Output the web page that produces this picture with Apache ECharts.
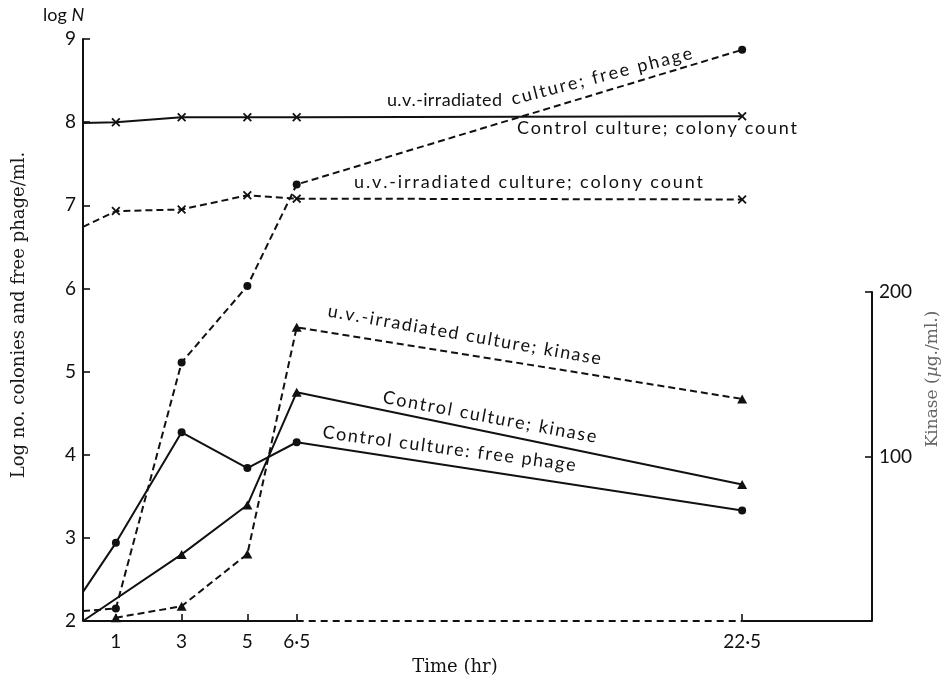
<!DOCTYPE html>
<html>
<head>
<meta charset="utf-8">
<script src="https://cdn.jsdelivr.net/npm/echarts@6/dist/echarts.min.js"></script>
<style>
  html, body { margin: 0; padding: 0; background: #ffffff; }
  #chart { width: 945px; height: 681px; }
</style>
</head>
<body>
<div id="chart"></div>
<script>
// ---- Measurements (time in hr) ----
// log number of colonies / free phage per ml
const controlColonyTimes = [0, 1, 3, 5, 6.5, 22.5];
const controlColony      = [7.99, 8.0, 8.06, 8.06, 8.06, 8.07];
const uvColonyTimes      = [0, 1, 3, 5, 6.5, 22.5];
const uvColony           = [6.74, 6.93, 6.95, 7.12, 7.08, 7.07];
const uvPhageTimes       = [0, 1, 3, 5, 6.5, 22.5];
const uvPhage            = [2.12, 2.15, 5.11, 6.03, 7.25, 8.87];
const controlPhageTimes  = [0, 1, 3, 5, 6.5, 22.5];
const controlPhage       = [2.35, 2.94, 4.27, 3.84, 4.15, 3.33];
// kinase (µg./ml.)
const controlKinaseTimes = [0, 3, 5, 6.5, 22.5];
const controlKinase      = [0, 40.5, 70.5, 139, 83];
const uvKinaseTimes      = [1, 3, 5, 6.5, 22.5];
const uvKinase           = [2, 9, 40.7, 178.5, 135];

// ---- Axis ticks ----
const timeTicks      = [1, 3, 5, 6.5, 22.5];
const timeTickLabels = ['1', '3', '5', '6·5', '22·5'];
const kinaseTicks    = [100, 200];

// ---- Broken time axis: linear up to 6.5 hr, compressed after ----
const BREAK_START = 6.5;
const BREAK_END = 22.5;
const BREAK_END_POS = 20.05;
const X_MAX_POS = 24;
function axisPos(t) {
  if (t <= BREAK_START) return t;
  return BREAK_START + (t - BREAK_START) * (BREAK_END_POS - BREAK_START) / (BREAK_END - BREAK_START);
}

const LOG_MIN = 2, LOG_MAX = 9;
const KIN_MIN = 0, KIN_MAX = 200;

const INK = '#111111';
const SANS = 'Lato';
const SERIF = "'DejaVu Serif'";
const DASH = [7, 4];
const CROSS = 'path://M0,1.4L1.4,0L5,3.6L8.6,0L10,1.4L6.4,5L10,8.6L8.6,10L5,6.4L1.4,10L0,8.6L3.6,5Z';

function points(times, values) {
  return times.map((t, i) => {
    const item = { value: [axisPos(t), values[i]] };
    if (t === 0) item.symbol = 'none'; // curve starts on the axis
    return item;
  });
}

function curve(times, values, symbol, size, dashed, kinase) {
  return {
    type: 'line',
    xAxisIndex: kinase ? 1 : 0,
    yAxisIndex: kinase ? 1 : 0,
    data: points(times, values),
    symbol: symbol,
    symbolSize: size,
    showAllSymbol: true,
    clip: false,
    silent: true,
    lineStyle: { color: INK, width: 2, type: dashed ? DASH : 'solid' },
    itemStyle: { color: INK, borderWidth: 0 },
    z: 3
  };
}

function axisSegment(from, to, dashed) {
  return {
    type: 'line', xAxisIndex: 0, yAxisIndex: 0,
    data: [[from, LOG_MIN], [to, LOG_MIN]],
    symbol: 'none', clip: false, silent: true,
    lineStyle: { color: INK, width: 2, type: dashed ? [7, 5] : 'solid' },
    z: 2
  };
}

// Text set with extra letter spacing, laid out along a (possibly rotated) baseline
const measureCtx = document.createElement('canvas').getContext('2d');
function trackedText(str, x, baseline, angleDeg, width, size) {
  const font = size + 'px ' + SANS;
  measureCtx.font = font;
  const chars = Array.from(str);
  const widths = chars.map(c => measureCtx.measureText(c).width);
  const natural = widths.reduce((a, b) => a + b, 0);
  const gap = chars.length > 1 ? (width - natural) / (chars.length - 1) : 0;
  let cx = 0;
  const children = chars.map((c, i) => {
    const el = {
      type: 'text', x: cx, y: -0.33 * size,
      style: { text: c, font: font, fill: INK, align: 'left', verticalAlign: 'middle' }
    };
    cx += widths[i] + gap;
    return el;
  });
  return { type: 'group', x: x, y: baseline, rotation: angleDeg * Math.PI / 180, children: children, silent: true };
}

const timeTickPos = timeTicks.map(axisPos);
function timeLabel(v) {
  const i = timeTickPos.findIndex(p => Math.abs(p - v) < 1e-6);
  return i >= 0 ? timeTickLabels[i] : '';
}

const LABEL_SIZE = 18;

const option = {
  backgroundColor: '#ffffff',
  animation: false,
  grid: [
    { left: 83, right: 73, top: 39, bottom: 60 },
    { left: 83, right: 73, top: 292, bottom: 60 }
  ],
  xAxis: [
    {
      type: 'value', gridIndex: 0, min: 0, max: X_MAX_POS,
      axisLine: { show: false, onZero: false },
      axisTick: { show: true, inside: true, length: 7, customValues: timeTickPos,
                  lineStyle: { color: INK, width: 1.6 } },
      axisLabel: { show: true, customValues: timeTickPos, formatter: timeLabel, margin: 11,
                   fontFamily: SANS, fontSize: 19, color: INK },
      splitLine: { show: false }
    },
    { type: 'value', gridIndex: 1, min: 0, max: X_MAX_POS, show: false,
      axisLine: { onZero: false } }
  ],
  yAxis: [
    {
      type: 'value', gridIndex: 0, position: 'left', min: LOG_MIN, max: LOG_MAX, interval: 1,
      axisLine: { show: true, onZero: false, lineStyle: { color: INK, width: 2 } },
      axisTick: { show: true, inside: true, length: 7, lineStyle: { color: INK, width: 1.6 } },
      axisLabel: { margin: 7, fontFamily: SANS, fontSize: 19, color: INK },
      splitLine: { show: false }
    },
    {
      type: 'value', gridIndex: 1, position: 'right', min: KIN_MIN, max: KIN_MAX,
      axisLine: { show: true, onZero: false, lineStyle: { color: INK, width: 2 } },
      axisTick: { show: true, inside: true, length: 7, customValues: kinaseTicks,
                  lineStyle: { color: INK, width: 1.6 } },
      axisLabel: { customValues: kinaseTicks, margin: 7, fontFamily: SANS, fontSize: 19, color: INK },
      splitLine: { show: false }
    }
  ],
  series: [
    axisSegment(0, BREAK_START, false),
    axisSegment(BREAK_START, BREAK_END_POS, true),
    axisSegment(BREAK_END_POS, X_MAX_POS, false),
    curve(controlColonyTimes, controlColony, CROSS, 9, false, false),
    curve(uvColonyTimes, uvColony, CROSS, 9, true, false),
    curve(uvPhageTimes, uvPhage, 'circle', 8, true, false),
    curve(controlPhageTimes, controlPhage, 'circle', 8, false, false),
    curve(controlKinaseTimes, controlKinase, 'triangle', [10, 9], false, true),
    curve(uvKinaseTimes, uvKinase, 'triangle', [10, 9], true, true)
  ],
  graphic: [
    {
      type: 'text', left: 43, top: 6, silent: true,
      style: {
        text: '{a|log }{b|N}',
        rich: {
          a: { fontFamily: SANS, fontSize: 18, fill: INK },
          b: { fontFamily: SANS, fontSize: 18, fontStyle: 'italic', fill: INK }
        }
      }
    },
    {
      type: 'text', x: 19, y: 315, rotation: Math.PI / 2, silent: true,
      style: { text: 'Log no. colonies and free phage/ml.', font: '18px ' + SERIF,
               fill: '#1a1a1a', align: 'center', verticalAlign: 'middle' }
    },
    {
      type: 'text', x: 455, y: 667, silent: true,
      style: { text: 'Time (hr)', font: '18px ' + SERIF, fill: INK, align: 'center', verticalAlign: 'middle' }
    },
    {
      type: 'text', x: 933, y: 379, rotation: Math.PI / 2, silent: true,
      style: {
        text: '{n|Kinase (}{i|µ}{n|g./ml.)}',
        align: 'center', verticalAlign: 'middle',
        rich: {
          n: { fontFamily: SERIF, fontSize: 17, fill: '#666666' },
          i: { fontFamily: SERIF, fontSize: 17, fontStyle: 'italic', fill: '#666666' }
        }
      }
    },
    trackedText('u.v.-irradiated', 387, 106, 0, 115, LABEL_SIZE),
    trackedText('culture; free phage', 513, 105, 14.4, 186, LABEL_SIZE),
    trackedText('Control culture; colony count', 517, 134, 0, 280, LABEL_SIZE),
    trackedText('u.v.-irradiated culture; colony count', 354, 188, 0, 349, LABEL_SIZE),
    trackedText('u.v.-irradiated culture; kinase', 327, 316.7, -10.0, 277, LABEL_SIZE),
    trackedText('Control culture; kinase', 382, 403, -10.6, 217, LABEL_SIZE),
    trackedText('Control culture: free phage', 322, 438, -7.5, 255, LABEL_SIZE)
  ]
};

const chart = echarts.init(document.getElementById('chart'), null, { renderer: 'canvas' });
chart.setOption(option);
</script>
</body>
</html>
